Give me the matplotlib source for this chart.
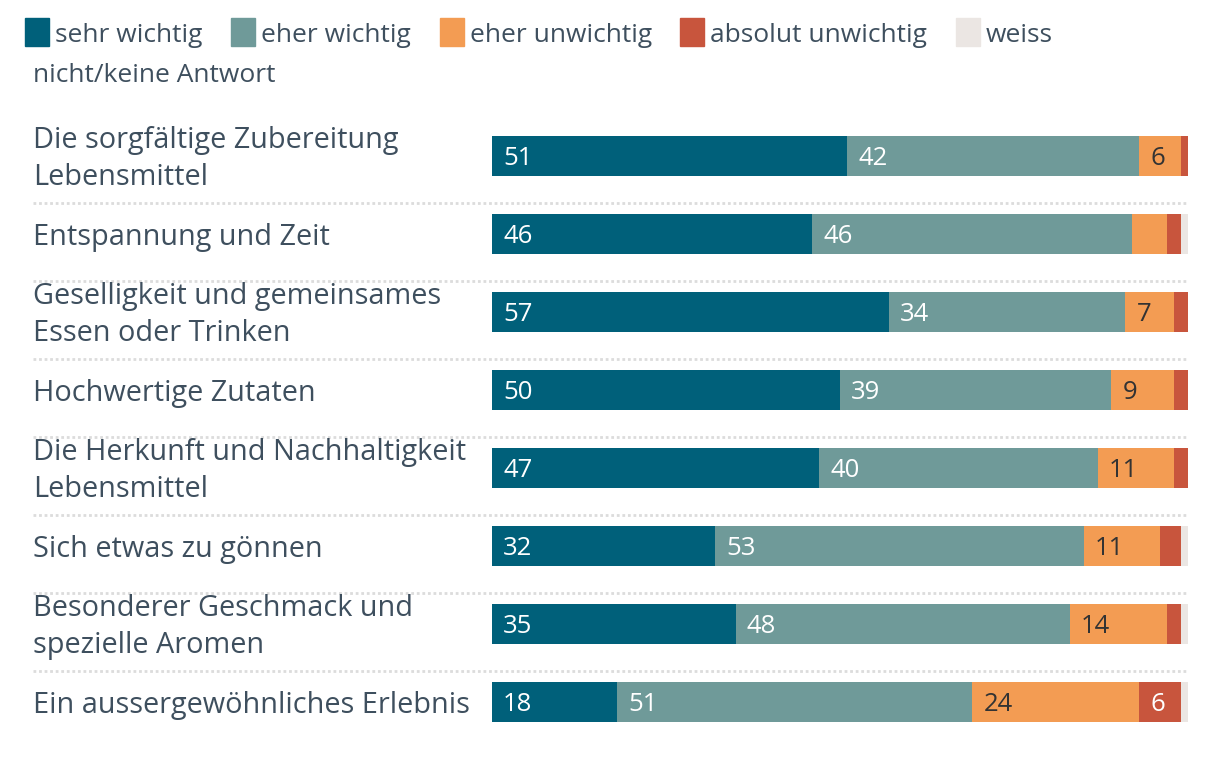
import matplotlib.pyplot as plt
import matplotlib.transforms as mtransforms
from matplotlib.patches import Rectangle

categories = [
    "Die sorgfältige Zubereitung\nLebensmittel",
    "Entspannung und Zeit",
    "Geselligkeit und gemeinsames\nEssen oder Trinken",
    "Hochwertige Zutaten",
    "Die Herkunft und Nachhaltigkeit\nLebensmittel",
    "Sich etwas zu gönnen",
    "Besonderer Geschmack und\nspezielle Aromen",
    "Ein aussergewöhnliches Erlebnis",
]
sehr_wichtig = [51, 46, 57, 50, 47, 32, 35, 18]
eher_wichtig = [42, 46, 34, 39, 40, 53, 48, 51]
eher_unwichtig = [6, 5, 7, 9, 11, 11, 14, 24]
absolut_unwichtig = [1, 2, 2, 2, 2, 3, 2, 6]
weiss_nicht = [0, 1, 0, 0, 0, 1, 1, 1]

series_names = ["sehr wichtig", "eher wichtig", "eher unwichtig",
                "absolut unwichtig", "weiss"]
series = [sehr_wichtig, eher_wichtig, eher_unwichtig, absolut_unwichtig, weiss_nicht]
colors = ["#00607a", "#6f9a99", "#f39c53", "#c8553d", "#ebe6e3"]
label_colors = ["white", "white", "#333333", "white", "#333333"]
text_color = "#3e4f5e"

plt.rcParams['font.family'] = ['Open Sans', 'DejaVu Sans']

W, H = 1220, 774
fig = plt.figure(figsize=(W / 100, H / 100), dpi=100)
ax = fig.add_axes([492 / W, 1 - 741 / H, 696 / W, 624 / H])

n = len(categories)
ypos = list(range(n))
left = [0] * n
for vals, col, lcol in zip(series, colors, label_colors):
    ax.barh(ypos, vals, left=left, height=0.513, color=col, edgecolor='none')
    for i, v in enumerate(vals):
        if v >= 6:
            ax.text(left[i] + 1.6, i + 0.03, str(v), va='center', ha='left',
                    fontsize=18.5, color=lcol)
    left = [a + b for a, b in zip(left, vals)]

ax.set_xlim(0, 100)
ax.set_ylim(n - 0.5, -0.5)
ax.axis('off')

# category labels and dotted separators
trans = mtransforms.blended_transform_factory(fig.transFigure, ax.transData)
for i, cat in enumerate(categories):
    ax.text(33 / W, i + 0.04, cat, transform=trans, ha='left', va='center',
            fontsize=20.8, color=text_color, linespacing=1.34)
    if i < n - 1:
        ax.plot([33 / W, 1188 / W], [i + 0.6, i + 0.6], transform=trans,
                color='#dcdcdc', lw=2, ls=(0, (1, 1)), clip_on=False)

# legend drawn by hand so it wraps like the original:
# first measure the texts, then spread them so the last patch sits where it does
fig.canvas.draw()
renderer = fig.canvas.get_renderer()
texts = []
for name in series_names:
    t = fig.text(0, 1 - 35 / H, name, ha='left', va='center',
                 fontsize=19, color=text_color)
    texts.append(t)
widths = [t.get_window_extent(renderer).width for t in texts]
pad = 30
gap = (956 - 25 - 4 * pad - sum(widths[:4])) / 4
x = 25
for t, col, w in zip(texts, colors, widths):
    fig.patches.append(Rectangle((x / W, 1 - 46 / H), 24 / W, 28 / H,
                                 transform=fig.transFigure, color=col))
    t.set_x((x + pad) / W)
    x = x + pad + w + gap
fig.text(33 / W, 1 - 76 / H, "nicht/keine Antwort", ha='left',
         va='center', fontsize=19, color=text_color)

fig.savefig("out.png", dpi=100)
